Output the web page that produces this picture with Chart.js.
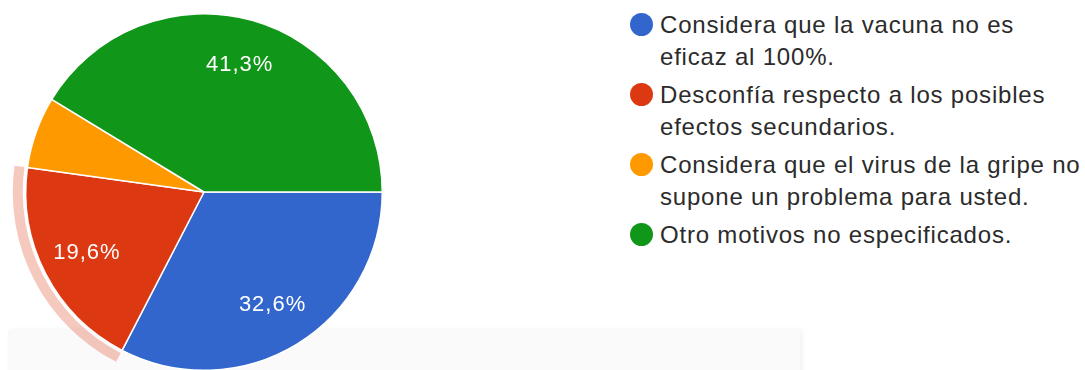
<!DOCTYPE html>
<html>
<head>
<meta charset="utf-8">
<script src="https://cdn.jsdelivr.net/npm/chart.js@4/dist/chart.umd.min.js"></script>
<style>
  html, body { margin: 0; padding: 0; background: #fff; overflow: hidden; }
  body { width: 1085px; height: 370px; position: relative; font-family: "Liberation Sans", Arial, sans-serif; }
  #strip { position: absolute; left: 8px; top: 330px; width: 792px; height: 60px; background: #fafafa; box-shadow: 2px 0 5px rgba(0,0,0,0.06); }
  #box { position: absolute; left: 0; top: 0; width: 408px; height: 384px; }
  #legend { position: absolute; left: 630px; top: 9px; list-style: none; margin: 0; padding: 0; }
  #legend li { display: flex; align-items: flex-start; margin-bottom: 6px; }
  #legend .dot { width: 23px; height: 23px; border-radius: 50%; margin-top: 4px; margin-right: 7px; flex: none; }
  #legend .txt { font-size: 24px; line-height: 32px; color: #2b2b2b; letter-spacing: 0.8px; white-space: pre-line; }
</style>
</head>
<body>
<div id="strip"></div>
<div id="box"><canvas id="PieChart"></canvas></div>
<ul id="legend"></ul>
<script>
var categories = [
    'Considera que la vacuna no es\neficaz al 100%.',
    'Desconfía respecto a los posibles\nefectos secundarios.',
    'Considera que el virus de la gripe no\nsupone un problema para usted.',
    'Otro motivos no especificados.'
];
var percents = [32.6, 19.6, 6.5, 41.3];
var colors = ['#3366cc', '#dc3912', '#ff9900', '#109618'];
var hoverIndex = 1;

// legend on the right
var legend = document.getElementById('legend');
categories.forEach(function (text, i) {
    var li = document.createElement('li');
    var dot = document.createElement('span');
    dot.className = 'dot';
    dot.style.background = colors[i];
    var txt = document.createElement('span');
    txt.className = 'txt';
    txt.textContent = text;
    li.appendChild(dot);
    li.appendChild(txt);
    legend.appendChild(li);
});

// pale ring around the highlighted slice
var ringPlugin = {
    id: 'ring',
    beforeDatasetsDraw: function (chart) {
        var arc = chart.getDatasetMeta(0).data[hoverIndex];
        if (!arc) return;
        var ctx = chart.ctx;
        ctx.save();
        ctx.beginPath();
        ctx.arc(arc.x, arc.y, arc.outerRadius + 13, arc.startAngle, arc.endAngle);
        ctx.arc(arc.x, arc.y, arc.outerRadius + 3, arc.endAngle, arc.startAngle, true);
        ctx.closePath();
        ctx.fillStyle = 'rgba(220, 57, 18, 0.27)';
        ctx.fill();
        ctx.restore();
    }
};

// percentage text inside each slice
var labelPlugin = {
    id: 'sliceLabels',
    afterDatasetsDraw: function (chart) {
        var ctx = chart.ctx;
        var meta = chart.getDatasetMeta(0);
        ctx.save();
        ctx.font = '22px "Liberation Sans", Arial, sans-serif';
        ctx.fillStyle = '#ffffff';
        ctx.textAlign = 'center';
        ctx.textBaseline = 'middle';
        ctx.letterSpacing = '1px';
        meta.data.forEach(function (arc, i) {
            var v = percents[i];
            if (v < 10) return;
            var mid = (arc.startAngle + arc.endAngle) / 2;
            var r = arc.outerRadius * 0.74;
            ctx.fillText(v.toFixed(1).replace('.', ',') + '%', arc.x + Math.cos(mid) * r, arc.y + Math.sin(mid) * r);
        });
        ctx.restore();
    }
};

var config = {
    type: 'pie',
    data: {
        labels: categories,
        datasets: [{
            data: percents,
            backgroundColor: colors,
            borderColor: '#ffffff',
            borderWidth: 1.5
        }]
    },
    options: {
        responsive: true,
        maintainAspectRatio: false,
        animation: false,
        rotation: 90,
        layout: { padding: 13 },
        plugins: {
            legend: { display: false },
            tooltip: { enabled: false }
        },
        events: []
    },
    plugins: [ringPlugin, labelPlugin]
};

var pieChart = new Chart(document.getElementById('PieChart'), config);
</script>
</body>
</html>
